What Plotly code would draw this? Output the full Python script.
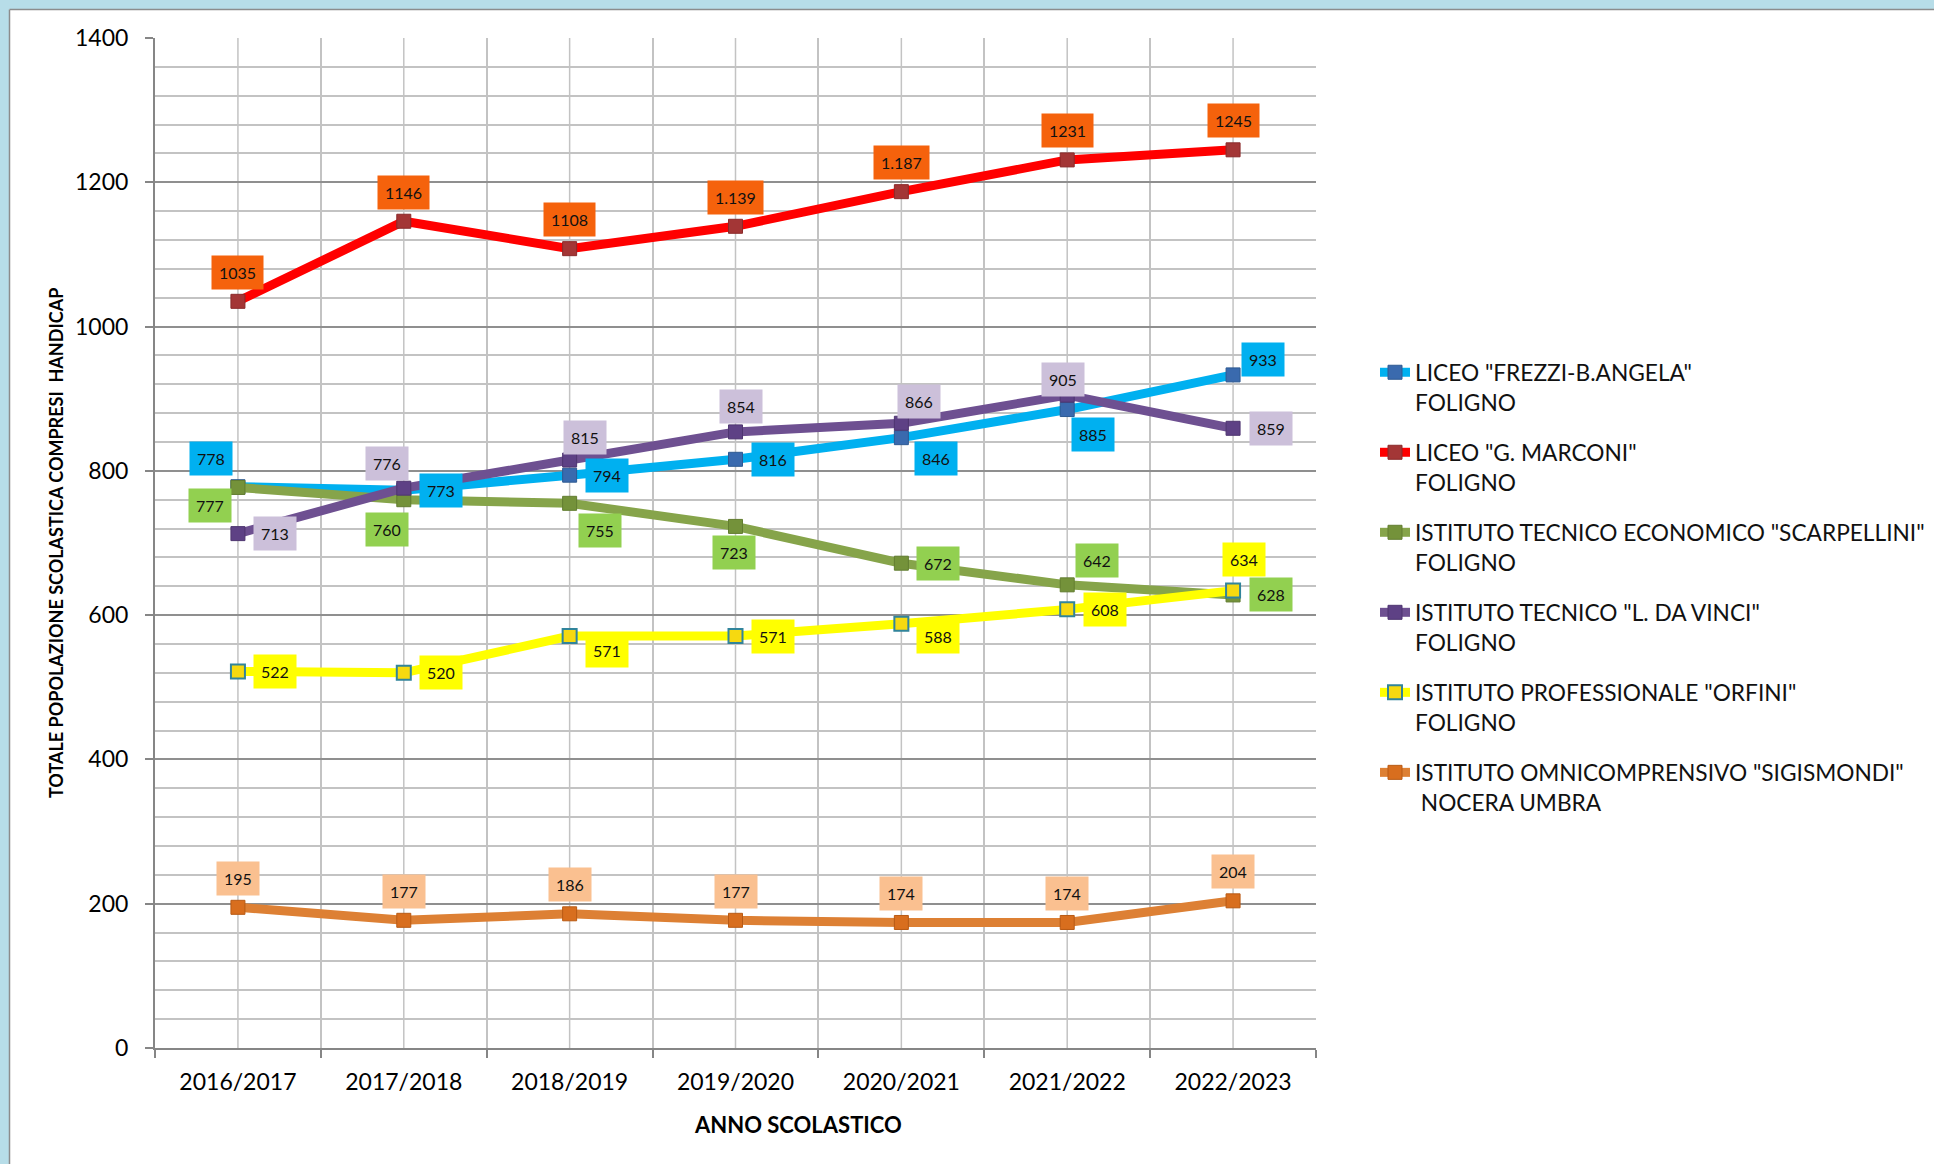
import plotly.graph_objects as go

# ---------------- data ----------------
categories = ["2016/2017", "2017/2018", "2018/2019", "2019/2020", "2020/2021", "2021/2022", "2022/2023"]

frezzi = [778, 773, 794, 816, 846, 885, 933]
marconi = [1035, 1146, 1108, 1139, 1187, 1231, 1245]
marconi_text = ["1035", "1146", "1108", "1.139", "1.187", "1231", "1245"]
scarpellini = [777, 760, 755, 723, 672, 642, 628]
davinci = [713, 776, 815, 854, 866, 905, 859]
orfini = [522, 520, 571, 571, 588, 608, 634]
sigismondi = [195, 177, 186, 177, 174, 174, 204]

names = [
    'LICEO "FREZZI-B.ANGELA"<br>FOLIGNO',
    'LICEO "G. MARCONI"<br>FOLIGNO',
    'ISTITUTO TECNICO ECONOMICO "SCARPELLINI"<br>FOLIGNO',
    'ISTITUTO TECNICO "L. DA VINCI"<br>FOLIGNO',
    'ISTITUTO PROFESSIONALE "ORFINI"<br>FOLIGNO',
    'ISTITUTO OMNICOMPRENSIVO "SIGISMONDI"<br>\u00a0NOCERA UMBRA',
]

y_title = "TOTALE POPOLAZIONE SCOLASTICA COMPRESI  HANDICAP"
x_title = "ANNO SCOLASTICO"

# ---------------- styles ----------------
FONT = "Lato, 'Open Sans', sans-serif"
series = [
    dict(y=frezzi, text=[str(v) for v in frezzi], line="#00B0F0", marker="#3A6AAE", mline="#2E5A92", mlw=1, box="#00B0F0",
         off=[(-27, 28), (37, 0), (37, 0), (37, 0), (35, -21), (26, -25), (30, 15)]),
    dict(y=marconi, text=marconi_text, line="#FF0000", marker="#A33636", mline="#8A2A2A", mlw=1, box="#F5620C",
         off=[(0, 29)] * 7),
    dict(y=scarpellini, text=[str(v) for v in scarpellini], line="#86A44A", marker="#74923A", mline="#627D30", mlw=1, box="#92D050",
         off=[(-28, -18), (-17, -30), (30, -27), (-2, -26), (37, 0), (30, 24), (38, 0)]),
    dict(y=davinci, text=[str(v) for v in davinci], line="#6E5091", marker="#5E4185", mline="#4E3570", mlw=1, box="#CCC0DA",
         off=[(37, 0), (-17, 25), (15, 23), (5, 25), (18, 22), (-4, 16), (38, 0)]),
    dict(y=orfini, text=[str(v) for v in orfini], line="#FFFF00", marker="#F6D910", mline="#31849B", mlw=2, box="#FFFF00",
         off=[(37, 0), (37, 0), (37, -14), (37, 0), (37, -13), (38, 0), (11, 31)]),
    dict(y=sigismondi, text=[str(v) for v in sigismondi], line="#DD8034", marker="#D86E1E", mline="#B85A14", mlw=1, box="#FAC090",
         off=[(0, 29)] * 7),
]

fig = go.Figure()
annotations = []
for i, (s, nm) in enumerate(zip(series, names)):
    fig.add_trace(go.Scatter(
        x=categories, y=s["y"], name=nm, mode="lines+markers",
        legendgroup=f"g{i}",
        line=dict(color=s["line"], width=9),
        marker=dict(symbol="square", size=14, color=s["marker"],
                    line=dict(color=s["mline"], width=s["mlw"])),
        hoverinfo="x+y",
    ))
    for c, v, t, (dx, dy) in zip(categories, s["y"], s["text"], s["off"]):
        annotations.append(dict(
            x=c, y=v, xref="x", yref="y", text=t, showarrow=False,
            xshift=dx, yshift=dy, bgcolor=s["box"], borderpad=7,
            font=dict(family=FONT, size=16, color="#111111"),
        ))

# centre gridlines for each category
shapes = []
for c in categories:
    shapes.append(dict(type="line", xref="x", yref="paper", x0=c, x1=c, y0=0, y1=1,
                       line=dict(color="#C3C3C3", width=1.5), layer="below"))

# frame of the chart area (light blue band + grey edge), top and left
W, H = 1934, 1164
L, R, T, B = 155, 618, 38, 116
pw, ph = W - L - R, H - T - B
def px(x):
    return (x - L) / pw
def py(y):
    return (H - B - y) / ph
shapes += [
    dict(type="rect", xref="paper", yref="paper", x0=px(0), x1=px(W), y0=py(9), y1=py(0),
         fillcolor="#B7DDE8", line=dict(width=0), layer="above"),
    dict(type="rect", xref="paper", yref="paper", x0=px(0), x1=px(9), y0=py(H), y1=py(0),
         fillcolor="#B7DDE8", line=dict(width=0), layer="above"),
    dict(type="line", xref="paper", yref="paper", x0=px(9.5), x1=px(W), y0=py(9.5), y1=py(9.5),
         line=dict(color="#8C8C8C", width=1.5), layer="above"),
    dict(type="line", xref="paper", yref="paper", x0=px(9.5), x1=px(9.5), y0=py(9.5), y1=py(H),
         line=dict(color="#8C8C8C", width=1.5), layer="above"),
]

annotations.append(dict(text=f"<b>{y_title}</b>", xref="paper", yref="paper", x=px(56), y=0.5,
                        textangle=-90, showarrow=False, xanchor="center", yanchor="middle",
                        font=dict(family=FONT, size=18, color="#000000")))
annotations.append(dict(text=f"<b>{x_title}</b>", xref="paper", yref="paper", x=px(798), y=py(1124),
                        showarrow=False, xanchor="center", yanchor="middle",
                        font=dict(family=FONT, size=22, color="#000000")))

fig.update_layout(
    width=W, height=H,
    margin=dict(l=L, r=R, t=T, b=B, pad=0, autoexpand=False),
    paper_bgcolor="#FFFFFF", plot_bgcolor="#FFFFFF",
    font=dict(family=FONT, color="#000000"),
    showlegend=True,
    legend=dict(x=px(1375), y=py(351), xanchor="left", yanchor="top",
                font=dict(family=FONT, size=22.7, color="#111111"),
                valign="top", tracegroupgap=18, bgcolor="rgba(0,0,0,0)"),
    annotations=annotations,
    shapes=shapes,
    xaxis=dict(type="category", range=[-0.5, 6.5], tickson="boundaries",
               showline=True, linecolor="#868686", linewidth=2,
               ticks="outside", ticklen=8, tickcolor="#868686", tickwidth=1.5,
               showgrid=True, gridcolor="#C3C3C3", gridwidth=1.5,
               tickfont=dict(family=FONT, size=23, color="#000000"),
               ticklabelstandoff=12, zeroline=False),
    yaxis=dict(range=[0, 1400], dtick=200, tick0=0,
               showline=True, linecolor="#868686", linewidth=2,
               ticks="outside", ticklen=8, tickcolor="#868686", tickwidth=1.5,
               showgrid=True, gridcolor="#8F8F8F", gridwidth=1.5,
               minor=dict(dtick=40, showgrid=True, gridcolor="#C3C3C3", gridwidth=1.5, ticks=""),
               tickfont=dict(family=FONT, size=23, color="#000000"),
               ticklabelstandoff=12, zeroline=False),
)

fig.write_html("out.html", config={"displayModeBar": False},
               post_script="document.body.style.margin='0';document.body.style.overflow='hidden';")
